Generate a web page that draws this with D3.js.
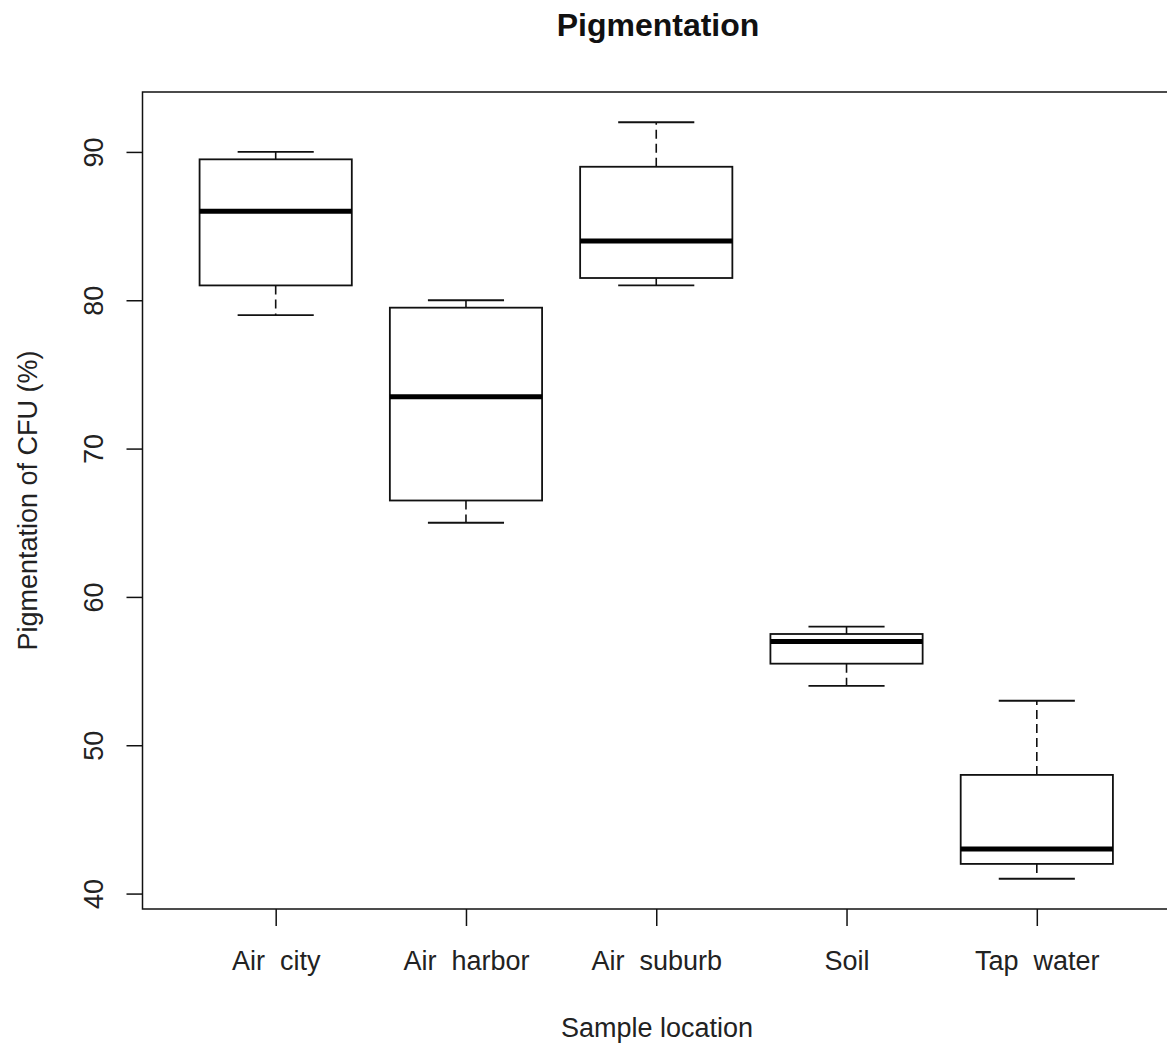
<!DOCTYPE html>
<html>
<head>
<meta charset="utf-8">
<title>Pigmentation</title>
<script src="https://cdnjs.cloudflare.com/ajax/libs/d3/7.8.5/d3.min.js"></script>
<style>
body { margin: 0; background: #fff; }
svg { display: block; font-family: "Liberation Sans", Arial, sans-serif; }
.tick text { white-space: pre; }
</style>
</head>
<body>
<svg id="chart" width="1167" height="1043"></svg>
<script>
// data
var categories = ["Air  city", "Air  harbor", "Air  suburb", "Soil", "Tap  water"];
var whiskerLow = [79, 65, 81, 54, 41];
var q1 = [81, 66.5, 81.5, 55.5, 42];
var median = [86, 73.5, 84, 57, 43];
var q3 = [89.5, 79.5, 89, 57.5, 48];
var whiskerHigh = [90, 80, 92, 58, 53];
var yTicks = [40, 50, 60, 70, 80, 90];

var boxes = categories.map(function(c, i) {
  return {pos: i + 1, lo: whiskerLow[i], q1: q1[i], med: median[i], q3: q3[i], hi: whiskerHigh[i]};
});

var plotLeft = 142.5, plotRight = 1170, plotTop = 92, plotBottom = 909;

var x = d3.scaleLinear().domain([0.3, 5.7]).range([plotLeft, plotRight]);
var y = d3.scaleLinear().domain([38.96, 94.04]).range([plotBottom, plotTop]);

var svg = d3.select("#chart");
var ink = "#111";

// boxes
var g = svg.append("g");
var bw = 0.4, cw = 0.2;

var b = g.selectAll(".box").data(boxes).enter().append("g").attr("class", "box");

// dashed whiskers
b.append("line")
  .attr("x1", function(d) { return x(d.pos); })
  .attr("x2", function(d) { return x(d.pos); })
  .attr("y1", function(d) { return y(d.q3); })
  .attr("y2", function(d) { return y(d.hi); })
  .attr("stroke", ink).attr("stroke-width", 1.6).attr("stroke-dasharray", "9,5");
b.append("line")
  .attr("x1", function(d) { return x(d.pos); })
  .attr("x2", function(d) { return x(d.pos); })
  .attr("y1", function(d) { return y(d.q1); })
  .attr("y2", function(d) { return y(d.lo); })
  .attr("stroke", ink).attr("stroke-width", 1.6).attr("stroke-dasharray", "9,5");

// caps
["lo", "hi"].forEach(function(k) {
  b.append("line")
    .attr("x1", function(d) { return x(d.pos - cw); })
    .attr("x2", function(d) { return x(d.pos + cw); })
    .attr("y1", function(d) { return y(d[k]); })
    .attr("y2", function(d) { return y(d[k]); })
    .attr("stroke", ink).attr("stroke-width", 1.8);
});

b.append("rect")
  .attr("x", function(d) { return x(d.pos - bw); })
  .attr("width", function(d) { return x(d.pos + bw) - x(d.pos - bw); })
  .attr("y", function(d) { return y(d.q3); })
  .attr("height", function(d) { return y(d.q1) - y(d.q3); })
  .attr("fill", "white").attr("stroke", ink).attr("stroke-width", 1.8);

b.append("line")
  .attr("x1", function(d) { return x(d.pos - bw); })
  .attr("x2", function(d) { return x(d.pos + bw); })
  .attr("y1", function(d) { return y(d.med); })
  .attr("y2", function(d) { return y(d.med); })
  .attr("stroke", "#000").attr("stroke-width", 5);

// frame
svg.append("rect")
  .attr("x", plotLeft).attr("y", plotTop)
  .attr("width", plotRight - plotLeft).attr("height", plotBottom - plotTop)
  .attr("fill", "none").attr("stroke", ink).attr("stroke-width", 1.5);

// y axis
var yAxis = svg.append("g")
  .attr("transform", "translate(" + plotLeft + ",0)")
  .call(d3.axisLeft(y).tickValues(yTicks).tickSize(16).tickSizeOuter(0));
yAxis.select(".domain").remove();
yAxis.selectAll(".tick line").attr("stroke", ink).attr("stroke-width", 1.5);
yAxis.selectAll(".tick text")
  .attr("x", 0).attr("y", 0).attr("dy", 0)
  .attr("transform", "translate(-39.5,0) rotate(-90)")
  .attr("text-anchor", "middle")
  .attr("font-size", 27).attr("fill", "#222");

// x axis
var xAxis = svg.append("g")
  .attr("transform", "translate(0," + plotBottom + ")")
  .call(d3.axisBottom(x).tickValues([1, 2, 3, 4, 5])
    .tickFormat(function(d) { return categories[d - 1]; })
    .tickSize(17).tickSizeOuter(0));
xAxis.select(".domain").remove();
xAxis.selectAll(".tick line").attr("stroke", ink).attr("stroke-width", 1.5);
xAxis.selectAll(".tick text")
  .attr("y", 61).attr("dy", 0)
  .attr("font-size", 27).attr("fill", "#222");

// titles
svg.append("text")
  .attr("x", 658).attr("y", 36)
  .attr("text-anchor", "middle")
  .attr("font-size", 32).attr("font-weight", "bold").attr("fill", "#111")
  .text("Pigmentation");

svg.append("text")
  .attr("x", 657).attr("y", 1037)
  .attr("text-anchor", "middle")
  .attr("font-size", 27).attr("fill", "#222")
  .text("Sample location");

svg.append("text")
  .attr("transform", "translate(37," + ((plotTop + plotBottom) / 2) + ") rotate(-90)")
  .attr("text-anchor", "middle")
  .attr("font-size", 27).attr("fill", "#222")
  .text("Pigmentation of CFU (%)");
</script>
</body>
</html>
